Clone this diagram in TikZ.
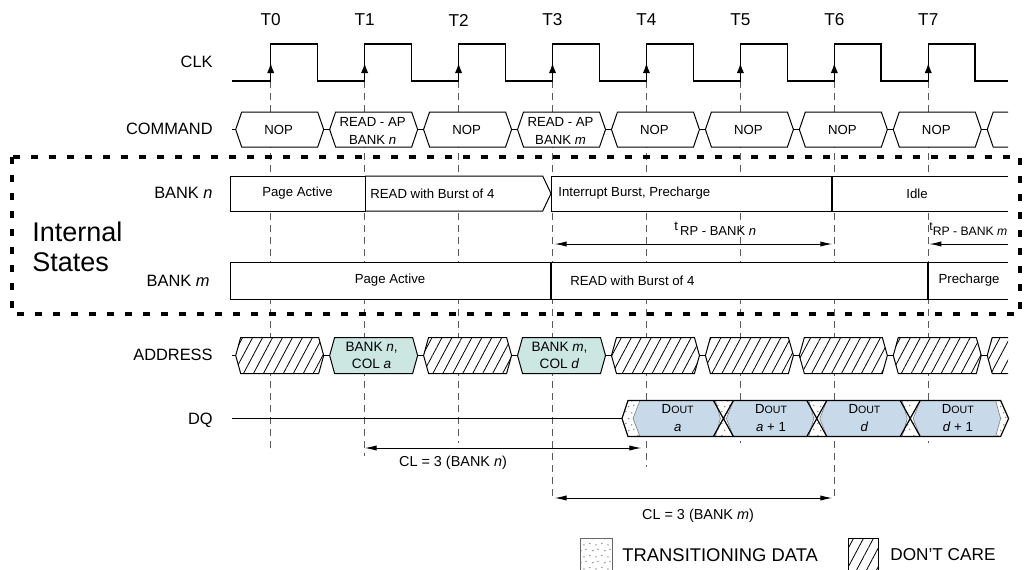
\documentclass[tikz,border=0pt]{standalone}
\usepackage{fontspec}
\setmainfont{Liberation Sans}
\usetikzlibrary{arrows.meta,patterns.meta}
\definecolor{addrTeal}{HTML}{CCE7E2}
\definecolor{dqBlue}{HTML}{C8DAEA}
\definecolor{guideGray}{HTML}{5A5A5A}

\tikzdeclarepattern{
  name=sparsedots, type=uncolored,
  bottom left={(0pt,0pt)}, top right={(6pt,6pt)}, tile size={(6pt,6pt)},
  code={
    \fill (1pt,1.3pt) circle (0.4pt);
    \fill (4.2pt,0.6pt) circle (0.4pt);
    \fill (2.6pt,3.9pt) circle (0.4pt);
    \fill (5.3pt,4.6pt) circle (0.4pt);
  }}

\begin{document}
\begin{tikzpicture}[x=0.5pt, y=-0.5pt,
    wire/.style={line width=0.6pt, black},
    guide/.style={guideGray, line width=0.5pt, dash pattern=on 3.5pt off 2.5pt},
    clkarr/.style={-{Latex[length=5pt,width=3.6pt]}, line width=0.6pt},
    dimarr/.style={{Latex[length=6pt,width=2.6pt]}-{Latex[length=6pt,width=2.6pt]}, line width=0.5pt},
    onearr/.style={-{Latex[length=6pt,width=2.6pt]}, line width=0.5pt},
    cmdbox/.style={draw, fill=white, line width=0.5pt},
    dcbox/.style={draw, line width=0.5pt, preaction={fill=white},
      pattern={Lines[angle=62,distance=4.4pt,line width=0.4pt]}},
    adbox/.style={draw, fill=addrTeal, line width=0.5pt},
    dqbox/.style={fill=dqBlue, draw=black!50, line width=0.3pt},
    trans/.style={preaction={fill=white}, pattern=sparsedots, pattern color=black!50},
    stbox/.style={draw, fill=white, line width=0.5pt},
    rowlab/.style={anchor=east, inner sep=0pt, font=\fontsize{8.2}{10}\selectfont},
    tlab/.style={inner sep=0pt, font=\fontsize{8.6}{10}\selectfont},
    txt/.style={inner sep=0pt, align=center, font=\fontsize{6.6}{9}\selectfont},
    lab/.style={inner sep=0pt, font=\fontsize{7.2}{9}\selectfont},
    frame/.style={line width=2pt, dash pattern=on 3.5pt off 5.5pt}]
  \useasboundingbox (0,0) rectangle (1025,569);
  \def\tz{270.7}
  \def\per{93.94}

  % clock edge guides
  \foreach \i/\e in {0/453,1/456,2/443,3/500,4/467,5/443,6/500,7/443}
    \draw[guide] ({\tz+\i*\per},81) -- ({\tz+\i*\per},\e);

  % clock
  \foreach \i in {0,...,7}
    \node[tlab] (T\i) at ({\tz+\i*\per},20) {T\i};
  \draw[wire] (232,81) \foreach \i in {0,...,7} {
      -- ({\tz+\i*\per},81) -- ({\tz+\i*\per},44)
      -- ({\tz+\i*\per+46.7},44) -- ({\tz+\i*\per+46.7},81) } -- (1008,81);
  \foreach \i in {0,...,7}
    \draw[clkarr] ({\tz+\i*\per},81) -- ({\tz+\i*\per},63);

  % row labels
  \node[rowlab] (clk) at (213,62) {CLK};
  \node[rowlab] (cmd) at (213,129) {COMMAND};
  \node[rowlab] (bankn) at (213,193) {BANK \textit{n}};
  \node[rowlab] (bankm) at (210,281) {BANK \textit{m}};
  \node[rowlab] (addr) at (213,355) {ADDRESS};
  \node[rowlab] (dq) at (213,420) {DQ};
  \node[anchor=west, inner sep=0pt, align=left,
    font=\fontsize{13.5}{15}\selectfont] (intst) at (32,247) {Internal\\States};

  % command bus
  \draw[wire] (232,129.5) -- (1000,129.5);
  \foreach \i in {0,...,7} {
    \pgfmathsetmacro\xl{\tz+\i*\per-35}
    \pgfmathsetmacro\xr{\xl+88}
    \draw[cmdbox] (\xl,129.5) -- (\xl+6,112) -- (\xr-6,112) -- (\xr,129.5)
      -- (\xr-6,147) -- (\xl+6,147) -- cycle;
  }
  \pgfmathsetmacro\xl{\tz+8*\per-35}
  \draw[cmdbox] (1008,112) -- (\xl+6,112) -- (\xl,129.5) -- (\xl+6,147) -- (1008,147);
  \foreach \i in {0,2,4,5,6,7}
    \node[txt] (cmd\i) at ({\tz+\i*\per+8},129.5) {NOP};
  \node[txt] (cmd1) at ({\tz+\per+8},131) {READ - AP\\BANK \textit{n}};
  \node[txt] (cmd3) at ({\tz+3*\per+8},131) {READ - AP\\BANK \textit{m}};

  % bank n states
  \draw[stbox] (230,176) rectangle (365,211);
  \draw[stbox] (365,176) -- (542.7,176) -- (551,193.5) -- (542.7,211) -- (365,211);
  \draw[stbox] (551,176) rectangle (832.3,211);
  \draw[stbox] (1008,176) -- (832.3,176) -- (832.3,211) -- (1008,211);
  \draw[line width=0.5pt] (365,176) -- (365,211);
  \draw[line width=1pt] (832.3,176) -- (832.3,211);
  \node[txt] (pan) at (297.5,193.5) {Page Active};
  \node[txt, anchor=west] (rdn) at (370,193.5) {READ with Burst of 4};
  \node[txt, anchor=west] (ibp) at (558,193.5) {Interrupt Burst, Precharge};
  \node[txt] (idle) at (917,193.5) {Idle};

  % tRP
  \coordinate (rpn-a) at ({\tz+3*\per},244);
  \coordinate (rpn-b) at ({\tz+6*\per},244);
  \draw[dimarr, shorten <=1pt, shorten >=1pt] (rpn-a) -- (rpn-b);
  \node[txt, anchor=west, font=\fontsize{6.5}{8}\selectfont] (rpnlab) at (674,229)
    {t\,\raisebox{-2.5pt}{RP - BANK \textit{n}}};
  \coordinate (rpm-a) at ({\tz+7*\per},244);
  \coordinate (rpm-b) at (1008,244);
  \draw[onearr, shorten >=0.5pt] (rpm-b) -- (rpm-a);
  \node[txt, anchor=west, font=\fontsize{6.1}{8}\selectfont] (rpmlab) at (929,229)
    {t\raisebox{-2.5pt}{RP - BANK \textit{m}}};

  % bank m states
  \draw[stbox] (230,262) rectangle (551,299);
  \draw[stbox] (551,262) rectangle (928.3,299);
  \draw[stbox] (1008,262) -- (928.3,262) -- (928.3,299) -- (1008,299);
  \draw[line width=1pt] (551,262) -- (551,299) (928.3,262) -- (928.3,299);
  \node[txt] (pam) at (390,280.5) {Page Active};
  \node[txt, anchor=west] (rdm) at (570,280.5) {READ with Burst of 4};
  \node[txt] (pre) at (969,280.5) {Precharge};

  % internal states frame
  \draw[frame] (12,157) rectangle (1020,314);

  % address bus
  \draw[wire] (232,355.5) -- (1000,355.5);
  \foreach \i/\sty in {0/dcbox,1/adbox,2/dcbox,3/adbox,4/dcbox,5/dcbox,6/dcbox,7/dcbox} {
    \pgfmathsetmacro\xl{\tz+\i*\per-35}
    \pgfmathsetmacro\xr{\xl+88}
    \draw[\sty] (\xl,355.5) -- (\xl+5,337.5) -- (\xr-5,337.5) -- (\xr,355.5)
      -- (\xr-5,373.5) -- (\xl+5,373.5) -- cycle;
  }
  \pgfmathsetmacro\xl{\tz+8*\per-35}
  \draw[dcbox] (1008,337.5) -- (\xl+5,337.5) -- (\xl,355.5) -- (\xl+5,373.5) -- (1008,373.5);
  \node[txt, font=\fontsize{6.8}{8.5}\selectfont] (ad1) at ({\tz+\per+7},355)
    {BANK \textit{n},\\COL \textit{a}};
  \node[txt, font=\fontsize{6.8}{8.5}\selectfont] (ad3) at ({\tz+3*\per+7},355)
    {BANK \textit{m},\\COL \textit{d}};

  % DQ bus
  \def\xc{630}
  \def\dqper{93.4}
  \draw[wire] (232,418.5) -- ({\xc-8},418.5);
  \fill[trans] ({\xc-8},418.5) -- ({\xc-2},400.5) -- ({\xc+4*\dqper-3},400.5)
    -- ({\xc+4*\dqper+5},418.5) -- ({\xc+4*\dqper-3},436.5) -- ({\xc-2},436.5) -- cycle;
  \foreach \k in {0,...,3}
    \draw[dqbox] ({\xc+\k*\dqper+3},418.5) -- ({\xc+\k*\dqper+10},400.5)
      -- ({\xc+\k*\dqper+\dqper-8},400.5) -- ({\xc+\k*\dqper+\dqper-3},418.5)
      -- ({\xc+\k*\dqper+\dqper-8},436.5) -- ({\xc+\k*\dqper+10},436.5) -- cycle;
  \foreach \k in {1,2,3}
    \draw[wire] ({\xc+\k*\dqper-10},400.5) -- ({\xc+\k*\dqper+10},436.5)
      ({\xc+\k*\dqper-10},436.5) -- ({\xc+\k*\dqper+10},400.5);
  \draw[wire] ({\xc-8},418.5) -- ({\xc-2},400.5) -- ({\xc+4*\dqper-3},400.5)
    -- ({\xc+4*\dqper+5},418.5) -- ({\xc+4*\dqper-3},436.5) -- ({\xc-2},436.5) -- cycle;
  \node[txt] (dq0) at ({\xc+47.7},418.5) {D{\fontsize{5.3}{6}\selectfont OUT}\\\textit{a}};
  \node[txt] (dq1) at ({\xc+\dqper+47.7},418.5) {D{\fontsize{5.3}{6}\selectfont OUT}\\\textit{a} + 1};
  \node[txt] (dq2) at ({\xc+2*\dqper+47.7},418.5) {D{\fontsize{5.3}{6}\selectfont OUT}\\\textit{d}};
  \node[txt] (dq3) at ({\xc+3*\dqper+47.7},418.5) {D{\fontsize{5.3}{6}\selectfont OUT}\\\textit{d} + 1};

  % CAS latency
  \coordinate (cln-a) at ({\tz+\per},448);
  \coordinate (cln-b) at ({\tz+4*\per},448);
  \draw[dimarr, shorten >=2.5pt] (cln-a) -- (cln-b);
  \node[lab] (cln) at (453,463) {CL = 3 (BANK \textit{n})};
  \coordinate (clm-a) at ({\tz+3*\per},498);
  \coordinate (clm-b) at ({\tz+6*\per},498);
  \draw[dimarr, shorten <=1pt, shorten >=1pt] (clm-a) -- (clm-b);
  \node[lab] (clm) at (698,516) {CL = 3 (BANK \textit{m})};

  % legend
  \draw[trans, draw=black!60, line width=0.4pt] (580,538) rectangle (612,575);
  \node[anchor=west, inner sep=0pt, font=\fontsize{9.2}{10}\selectfont] (lgtr) at (622,555)
    {TRANSITIONING DATA};
  \draw[dcbox, line width=0.4pt] (848,538) rectangle (878,575);
  \node[anchor=west, inner sep=0pt, font=\fontsize{8.6}{10}\selectfont] (lgdc) at (890,555)
    {DON'T CARE};
\end{tikzpicture}
\end{document}
